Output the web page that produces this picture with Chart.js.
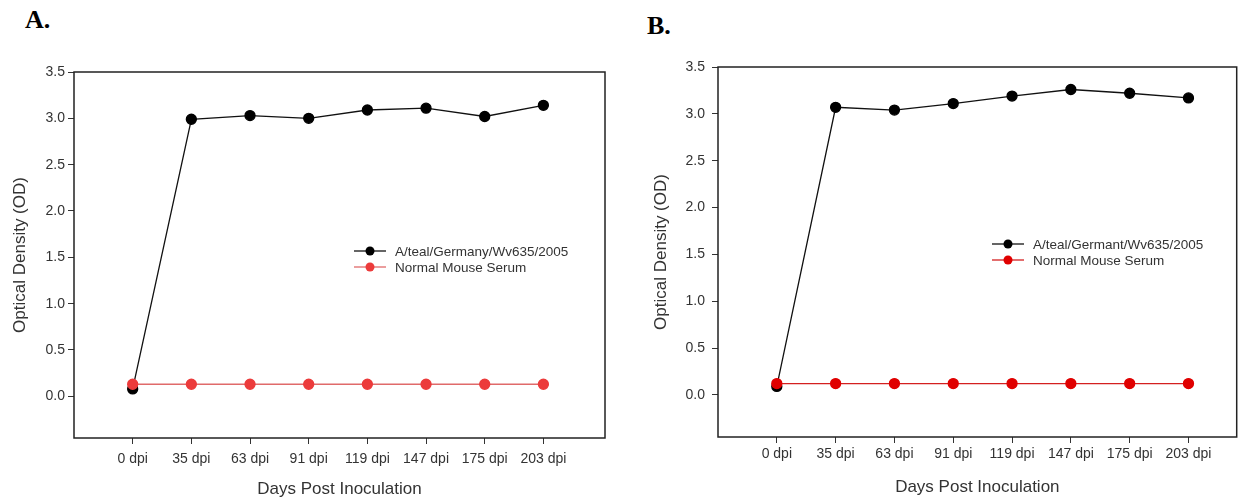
<!DOCTYPE html>
<html><head><meta charset="utf-8">
<script src="https://cdn.jsdelivr.net/npm/chart.js@4/dist/chart.umd.min.js"></script>
<style>
html,body{margin:0;padding:0;background:#fff;width:1243px;height:500px;overflow:hidden;position:relative}
.wrap{position:absolute;top:0;height:500px}
.lab{position:absolute;font-family:"Liberation Serif","Times New Roman",serif;font-weight:bold;font-size:26px;line-height:30px;color:#000}
</style></head><body>
<div class="lab" style="left:25px;top:5px">A.</div>
<div class="lab" style="left:647px;top:11px">B.</div>
<div class="wrap" style="left:0;width:620px"><canvas id="cA"></canvas></div>
<div class="wrap" style="left:620px;width:623px"><canvas id="cB"></canvas></div>
<script>
const categories = ['0 dpi','35 dpi','63 dpi','91 dpi','119 dpi','147 dpi','175 dpi','203 dpi'];
const yTickValues = [0, 0.5, 1.0, 1.5, 2.0, 2.5, 3.0, 3.5];
const virusA  = [0.08, 2.99, 3.03, 3.00, 3.09, 3.11, 3.02, 3.14];
const normalA = [0.13, 0.13, 0.13, 0.13, 0.13, 0.13, 0.13, 0.13];
const virusB  = [0.09, 3.07, 3.04, 3.11, 3.19, 3.26, 3.22, 3.17];
const normalB = [0.12, 0.12, 0.12, 0.12, 0.12, 0.12, 0.12, 0.12];
const seriesNamesA = ['A/teal/Germany/Wv635/2005', 'Normal Mouse Serum'];
const seriesNamesB = ['A/teal/Germant/Wv635/2005', 'Normal Mouse Serum'];
const xTitle = 'Days Post Inoculation';
const yTitle = 'Optical Density (OD)';

const FONT = '"Liberation Sans", Arial, sans-serif';

const framePlugin = {
  id: 'frame',
  afterDatasetsDraw(chart) {
    const {ctx, chartArea: a} = chart;
    ctx.save();
    ctx.strokeStyle = '#222';
    ctx.lineWidth = 1.5;
    ctx.strokeRect(a.left, a.top, a.right - a.left, a.bottom - a.top);
    ctx.restore();
  }
};

const legendPlugin = {
  id: 'innerLegend',
  afterDraw(chart, args, opts) {
    const ctx = chart.ctx;
    ctx.save();
    chart.data.datasets.forEach((ds, i) => {
      const y = opts.y + i * opts.rowGap;
      ctx.strokeStyle = ds.borderColor;
      ctx.lineWidth = 1.3;
      ctx.beginPath();
      ctx.moveTo(opts.x, y);
      ctx.lineTo(opts.x + opts.lineLen, y);
      ctx.stroke();
      ctx.fillStyle = ds.pointBackgroundColor;
      ctx.beginPath();
      ctx.arc(opts.x + opts.lineLen / 2, y, 4.5, 0, Math.PI * 2);
      ctx.fill();
      ctx.fillStyle = '#333';
      ctx.font = '13.5px ' + FONT;
      ctx.textBaseline = 'middle';
      ctx.fillText(ds.label, opts.textX, y + 1);
    });
    ctx.restore();
  }
};

function makeChart(id, c) {
  const toPts = arr => arr.map((v, i) => ({x: i, y: v}));
  return new Chart(document.getElementById(id), {
    type: 'line',
    data: {
      datasets: [
        {label: c.names[0], data: toPts(c.virus), borderColor: '#111', backgroundColor: '#000',
         pointBackgroundColor: '#000', pointBorderColor: '#000', pointRadius: 5, borderWidth: 1.3, tension: 0, order: 2},
        {label: c.names[1], data: toPts(c.normal), borderColor: c.redLine, backgroundColor: c.red,
         pointBackgroundColor: c.red, pointBorderColor: c.red, pointRadius: 5, borderWidth: 1.3, tension: 0, order: 1}
      ]
    },
    options: {
      responsive: true, maintainAspectRatio: false, animation: false,
      layout: {padding: {left: c.padLeft, top: c.padTop, right: c.padRight, bottom: 0}},
      plugins: {legend: {display: false}, tooltip: {enabled: false},
        innerLegend: c.legend},
      scales: {
        x: {
          type: 'linear', min: -1, max: c.xMax,
          afterBuildTicks: s => { s.ticks = categories.map((_, i) => ({value: i})); },
          afterFit: s => { s.height = c.xHeight; },
          ticks: {callback: v => categories[v], color: '#333', font: {family: FONT, size: 14},
                  padding: c.xTickPad, maxRotation: 0, autoSkip: false},
          grid: {drawOnChartArea: false, drawTicks: true, tickLength: 6, color: '#333', lineWidth: 1},
          border: {display: false},
          title: {display: true, text: xTitle, color: '#333', font: {family: FONT, size: 17},
                  padding: {top: 0, bottom: c.xTitlePadBottom}}
        },
        y: {
          type: 'linear', min: -0.45, max: 3.5,
          afterBuildTicks: s => { s.ticks = yTickValues.map(v => ({value: v})); },
          afterFit: s => { s.width = c.yWidth; },
          ticks: {callback: v => Number(v).toFixed(1), color: '#333', font: {family: FONT, size: 14},
                  padding: c.yTickPad},
          grid: {drawOnChartArea: false, drawTicks: true, tickLength: 6, color: '#333', lineWidth: 1},
          border: {display: false},
          title: {display: true, text: yTitle, color: '#333', font: {family: FONT, size: 17},
                  padding: {top: 4, bottom: 0}}
        }
      }
    },
    plugins: [framePlugin, legendPlugin]
  });
}

makeChart('cA', {
  virus: virusA, normal: normalA, names: seriesNamesA,
  red: '#ec3b3b', redLine: '#e06a6a',
  xMax: 8.05, padLeft: 6, padTop: 72, padRight: 15, yWidth: 68, xHeight: 62,
  xTickPad: 7, yTickPad: 3, xTitlePadBottom: 0,
  legend: {x: 354, lineLen: 32, y: 251, rowGap: 16, textX: 395}
});
makeChart('cB', {
  virus: virusB, normal: normalB, names: seriesNamesB,
  red: '#e00000', redLine: '#d42020',
  xMax: 7.82, padLeft: 27, padTop: 67, padRight: 2, yWidth: 71, xHeight: 63,
  xTickPad: 3, yTickPad: 7, xTitlePadBottom: 2,
  legend: {x: 372, lineLen: 32, y: 244, rowGap: 16, textX: 413}
});
</script>
</body></html>
